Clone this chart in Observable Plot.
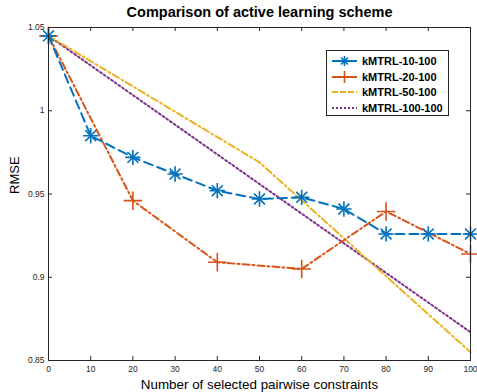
<!DOCTYPE html>
<html><head><meta charset="utf-8">
<script src="https://cdn.jsdelivr.net/npm/d3@7"></script>
<script src="https://cdn.jsdelivr.net/npm/@observablehq/plot@0.6"></script>
<style>
body{margin:0;background:#fff;font-family:"Liberation Sans",Arial,sans-serif;}
#wrap{position:relative;width:477px;height:392px;overflow:hidden;}
#legend{position:absolute;left:326px;top:50px;width:121px;height:64px;border:1px solid #262626;background:#fff;box-sizing:content-box;}
.row{position:absolute;left:0;height:16px;display:flex;align-items:center;}
.row svg{margin-left:5px;}
.row span{margin-left:5px;font-weight:bold;font-size:11px;color:#000;white-space:nowrap;}
</style>
</head><body>
<div id="wrap"></div>
<script>
const xTicks = [0,10,20,30,40,50,60,70,80,90,100];
const yTicks = [0.85,0.9,0.95,1,1.05];
const yTickLabels = ["0.85","0.9","0.95","1","1.05"];

const seriesNames = ["kMTRL-10-100","kMTRL-20-100","kMTRL-50-100","kMTRL-100-100"];
const colors = ["#0072BD","#D95319","#EDB120","#7E2F8E"];

const x10 = [0,10,20,30,40,50,60,70,80,90,100];
const y10 = [1.045,0.985,0.972,0.962,0.952,0.947,0.948,0.941,0.926,0.926,0.926];
const x20 = [0,20,40,60,80,100];
const y20 = [1.045,0.946,0.909,0.905,0.9395,0.914];
const x50 = [0,50,100];
const y50 = [1.045,0.969,0.855];
const x100 = [0,100];
const y100 = [1.045,0.867];

const toRows = (xs, ys) => xs.map((x,i)=>({x, y: ys[i]}));
const d10 = toRows(x10,y10), d20 = toRows(x20,y20), d50 = toRows(x50,y50), d100 = toRows(x100,y100);

const W = 477, H = 392, mt = 27, mb = 32, ml = 48, mr = 7;
const ph = H - mt - mb, pw = W - ml - mr;
const ax = "#262626";

const dashes = ["9,5","7,3,2,3","7,3,2,3","2,2.5"];
const widths = [2,2,2,2];

const chart = Plot.plot({
  width: W, height: H,
  marginTop: mt, marginBottom: mb, marginLeft: ml, marginRight: mr,
  style: {fontFamily: '"Liberation Sans", Arial, sans-serif', background: "#fff", overflow: "visible"},
  x: {domain: [0,100]},
  y: {domain: [0.85,1.05]},
  marks: [
    Plot.axisX({ticks: xTicks, tickSize: 0, tickPadding: 5, fontSize: 8.5, fill: ax, label: null}),
    Plot.axisY({ticks: yTicks, tickFormat: (d) => yTickLabels[yTicks.indexOf(d)], tickSize: 0, tickPadding: 4, fontSize: 8.5, fill: ax, label: null}),
    Plot.tickX(xTicks, {x: d=>d, stroke: ax, insetTop: ph-4}),
    Plot.tickX(xTicks, {x: d=>d, stroke: ax, insetBottom: ph-4}),
    Plot.tickY(yTicks, {y: d=>d, stroke: ax, insetRight: pw-4}),
    Plot.tickY(yTicks, {y: d=>d, stroke: ax, insetLeft: pw-4}),
    Plot.line(d100, {x:"x", y:"y", stroke: colors[3], strokeWidth: widths[3], strokeDasharray: dashes[3]}),
    Plot.line(d50, {x:"x", y:"y", stroke: colors[2], strokeWidth: widths[2], strokeDasharray: dashes[2]}),
    Plot.line(d20, {x:"x", y:"y", stroke: colors[1], strokeWidth: widths[1], strokeDasharray: dashes[1]}),
    Plot.dot(d20, {x:"x", y:"y", symbol:"plus", stroke: colors[1], strokeWidth: 1.6, r: 6}),
    Plot.line(d10, {x:"x", y:"y", stroke: colors[0], strokeWidth: widths[0], strokeDasharray: dashes[0]}),
    Plot.dot(d10, {x:"x", y:"y", symbol:"plus", stroke: colors[0], strokeWidth: 1.6, r: 5}),
    Plot.dot(d10, {x:"x", y:"y", symbol:"times", stroke: colors[0], strokeWidth: 1.6, r: 5}),
    Plot.frame({stroke: ax, strokeWidth: 1}),
    Plot.text(["Comparison of active learning scheme"], {frameAnchor: "top", lineAnchor: "middle", dy: -15, fontSize: 14.5, fontWeight: "bold", fill: "#000"}),
    Plot.text(["Number of selected pairwise constraints"], {frameAnchor: "bottom", lineAnchor: "middle", dy: 24, fontSize: 13.4, fill: "#000"}),
    Plot.text(["RMSE"], {frameAnchor: "left", dx: -34, rotate: -90, fontSize: 13, fill: "#000"})
  ]
});
const wrap = document.getElementById("wrap");
wrap.appendChild(chart);

// legend
const leg = document.createElement("div");
leg.id = "legend";
wrap.appendChild(leg);
seriesNames.forEach((name, i) => {
  const row = document.createElement("div");
  row.className = "row";
  row.style.top = (2 + i*15.5) + "px";
  let marker = "";
  if (i === 0) marker = `<path d="M12.5,3V13M7.5,8H17.5M9,4.5L16,11.5M16,4.5L9,11.5" stroke="${colors[0]}" stroke-width="1.6" fill="none"/>`;
  if (i === 1) marker = `<path d="M12.5,2V14M6.5,8H18.5" stroke="${colors[1]}" stroke-width="1.6" fill="none"/>`;
  row.innerHTML = `<svg width="25" height="16"><line x1="0" x2="25" y1="8" y2="8" stroke="${colors[i]}" stroke-width="2" stroke-dasharray="${i===0?'25':i===1?'25':i===2?'6,2':'2,2'}"/>${marker}</svg><span>${name}</span>`;
  leg.appendChild(row);
});
</script>
</body></html>
